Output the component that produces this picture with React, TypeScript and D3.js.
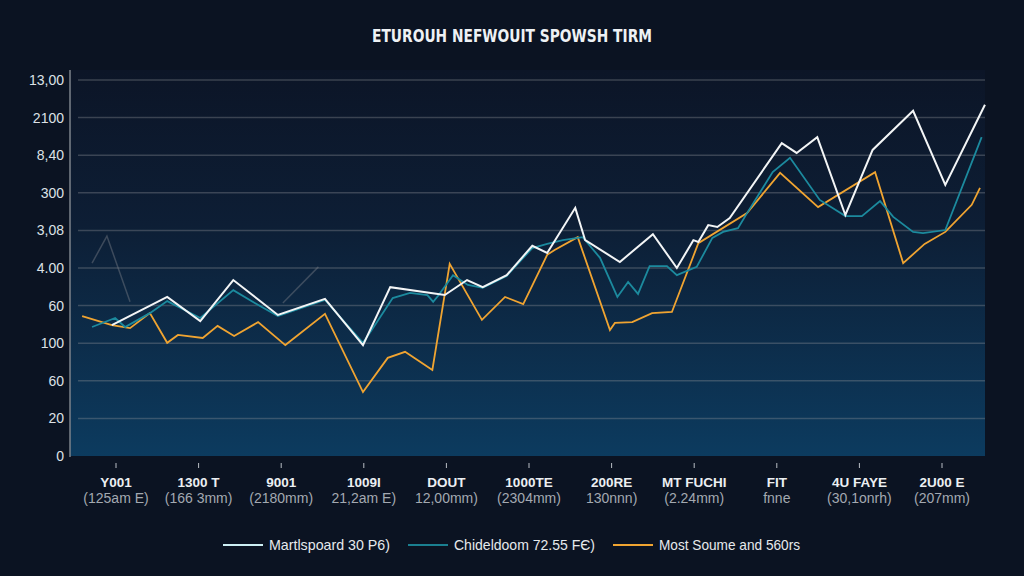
import React from 'react';
import * as d3 from 'd3';

// chart values (x = category position, y = grid step)
const title = 'ETUROUH NEFWOUIT SPOWSH TIRM';

const yTickValues = [0, 1, 2, 3, 4, 5, 6, 7, 8, 9, 10];
const yTickLabels = ['0', '20', '60', '100', '60', '4.00', '3,08', '300', '8,40', '2100', '13,00'];

const xCategories = [
  'Y001', '1300 T', '9001', '1009I', 'DOUT', '1000TE', '200RE', 'MT FUCHI', 'FIT', '4U FAYE', '2U00 E',
];
const xSubLabels = [
  '(125am E)', '(166 3mm)', '(2180mm)', '21,2am E)', '12,00mm)', '(2304mm)', '130nnn)', '(2.24mm)', 'fnne',
  '(30,1onrh)', '(207mm)',
];

type Pt = [number, number];

const whiteSeries: Pt[] = [
  [-0.05, 3.48], [0.62, 4.23], [1.02, 3.59], [1.42, 4.68], [1.96, 3.75], [2.53, 4.18], [2.99, 2.95],
  [3.32, 4.49], [3.98, 4.28], [4.25, 4.68], [4.44, 4.49], [4.73, 4.81], [5.04, 5.59], [5.22, 5.4],
  [5.56, 6.6], [5.68, 5.74], [6.1, 5.16], [6.5, 5.9], [6.79, 5.0], [6.99, 5.74], [7.05, 5.69],
  [7.17, 6.14], [7.28, 6.09], [7.43, 6.33], [8.06, 8.32], [8.24, 8.06], [8.49, 8.48], [8.83, 6.41],
  [9.16, 8.14], [9.65, 9.18], [10.04, 7.21], [10.52, 9.34],
];

const tealSeries: Pt[] = [
  [-0.29, 3.43], [-0.01, 3.67], [0.11, 3.43], [0.41, 3.8], [0.62, 4.12], [1.02, 3.67], [1.42, 4.41],
  [1.68, 4.07], [1.96, 3.72], [2.53, 4.15], [2.99, 3.01], [3.11, 3.4], [3.35, 4.2], [3.56, 4.34],
  [3.77, 4.28], [3.84, 4.1], [3.9, 4.26], [4.08, 4.81], [4.26, 4.55], [4.44, 4.47], [4.73, 4.79],
  [5.04, 5.53], [5.22, 5.64], [5.41, 5.74], [5.65, 5.82], [5.86, 5.27], [6.07, 4.23], [6.2, 4.63],
  [6.32, 4.31], [6.46, 5.05], [6.67, 5.05], [6.79, 4.81], [7.03, 5.03], [7.22, 5.8], [7.35, 5.96],
  [7.53, 6.06], [7.64, 6.46], [7.95, 7.55], [8.16, 7.93], [8.52, 6.81], [8.83, 6.38], [9.03, 6.38],
  [9.25, 6.78], [9.41, 6.36], [9.65, 5.96], [9.77, 5.93], [10.04, 6.01], [10.48, 8.48],
];

const orangeSeries: Pt[] = [
  [-0.41, 3.72], [-0.05, 3.48], [0.17, 3.4], [0.41, 3.8], [0.62, 3.01], [0.75, 3.22], [1.05, 3.14],
  [1.23, 3.46], [1.43, 3.19], [1.72, 3.56], [2.05, 2.95], [2.53, 3.78], [2.99, 1.7], [3.29, 2.61],
  [3.5, 2.77], [3.83, 2.29], [4.04, 5.11], [4.43, 3.62], [4.71, 4.23], [4.93, 4.04], [5.22, 5.35],
  [5.31, 5.48], [5.59, 5.82], [5.98, 3.35], [6.04, 3.54], [6.25, 3.56], [6.49, 3.8], [6.73, 3.83],
  [7.05, 5.66], [7.64, 6.46], [8.04, 7.53], [8.5, 6.62], [9.19, 7.55], [9.53, 5.13], [9.79, 5.64],
  [10.04, 5.96], [10.36, 6.68], [10.46, 7.13],
];

// faint grey strokes in the background
const ghostSegments: Pt[][] = [
  [[-0.29, 5.13], [-0.11, 5.85], [0.17, 4.1]],
  [[2.02, 4.07], [2.45, 5.03]],
];

const legendLabels = ['Martlspoard 30 P6)', 'Chideldoom  72.55 FЄ)', 'Most Soume and 560rs'];

const W = 1024;
const H = 576;
const plot = { left: 70, right: 985, top: 70, bottom: 456 };

const COLORS = {
  bg: '#0b1322',
  white: '#f3f5f6',
  teal: '#1c8a9e',
  orange: '#f0a431',
  grid: 'rgba(140,144,150,0.36)',
  text: '#dde1e6',
  sub: '#a3a9b1',
};

export default function App() {
  const x = d3.scaleLinear().domain([0, 10]).range([116, 942]);
  const y = d3.scaleLinear().domain([0, 10]).range([plot.bottom, 80]);

  const line = d3
    .line<Pt>()
    .x((d) => x(d[0]))
    .y((d) => y(d[1]));

  const series = [
    { data: orangeSeries, color: COLORS.orange, legend: COLORS.orange, width: 1.8 },
    { data: tealSeries, color: COLORS.teal, legend: '#1a7f90', width: 1.8 },
    { data: whiteSeries, color: COLORS.white, legend: '#cdeff4', width: 2 },
  ];

  const legendX = [223, 408, 613];
  const legendTextLen = [121, 141, 141];

  return (
    <svg
      width={W}
      height={H}
      style={{ position: 'fixed', left: 0, top: 0, display: 'block', background: COLORS.bg }}
      fontFamily="'Liberation Sans', Arial, sans-serif"
    >
      <defs>
        <linearGradient id="plot-bg" x1="0" y1="0" x2="0" y2="1">
          <stop offset="0%" stopColor="#0c1527" />
          <stop offset="40%" stopColor="#0d1e35" />
          <stop offset="100%" stopColor="#0c3b5f" />
        </linearGradient>
      </defs>

      <rect x={0} y={0} width={W} height={H} fill={COLORS.bg} />

      {/* title */}
      <text
        x={W / 2}
        y={42}
        textAnchor="middle"
        fill="#eef1f4"
        fontSize={18}
        fontWeight="bold"
        fontFamily="'Liberation Sans Narrow', 'DejaVu Sans Condensed', sans-serif"
        textLength={280}
        lengthAdjust="spacingAndGlyphs"
      >
        {title}
      </text>

      {/* plot panel */}
      <rect
        x={plot.left}
        y={plot.top}
        width={plot.right - plot.left}
        height={plot.bottom - plot.top}
        fill="url(#plot-bg)"
      />

      {/* horizontal grid */}
      {yTickValues.slice(1).map((v) => (
        <line
          key={v}
          x1={plot.left + 8}
          x2={plot.right}
          y1={y(v)}
          y2={y(v)}
          stroke={COLORS.grid}
          strokeWidth={1.5}
        />
      ))}

      {/* y axis */}
      <line x1={plot.left} x2={plot.left} y1={plot.top} y2={plot.bottom + 1} stroke="#7d838b" strokeWidth={1.5} />
      {yTickValues.map((v, i) => (
        <text
          key={v}
          x={64}
          y={y(v)}
          dy="0.35em"
          textAnchor="end"
          fill={COLORS.text}
          fontSize={14}
        >
          {yTickLabels[i]}
        </text>
      ))}

      {/* ghost strokes */}
      {ghostSegments.map((seg, i) => (
        <path key={i} d={line(seg) || ''} fill="none" stroke="rgba(120,124,132,0.45)" strokeWidth={1.5} />
      ))}

      {/* series */}
      {series.map((s, i) => (
        <path
          key={i}
          d={line(s.data) || ''}
          fill="none"
          stroke={s.color}
          strokeWidth={s.width}
          strokeLinejoin="miter"
        />
      ))}

      {/* x axis ticks and labels */}
      {xCategories.map((c, i) => (
        <g key={c} transform={`translate(${x(i)},0)`}>
          <line y1={463} y2={468} stroke="#b9bec5" strokeWidth={1} />
          <text y={487} textAnchor="middle" fill="#eceff2" fontSize={13.5} fontWeight="bold">
            {c}
          </text>
          <text y={503} textAnchor="middle" fill={COLORS.sub} fontSize={14}>
            {xSubLabels[i]}
          </text>
        </g>
      ))}

      {/* legend */}
      {legendLabels.map((l, i) => (
        <g key={l} transform={`translate(${legendX[i]},545)`}>
          <line x1={0} x2={40} y1={0} y2={0} stroke={series[2 - i].legend} strokeWidth={2} />
          <text
            x={46}
            y={0}
            dy="0.35em"
            fill="#e6e9ec"
            fontSize={14.5}
            textLength={legendTextLen[i]}
            lengthAdjust="spacingAndGlyphs"
          >
            {l}
          </text>
        </g>
      ))}
    </svg>
  );
}
